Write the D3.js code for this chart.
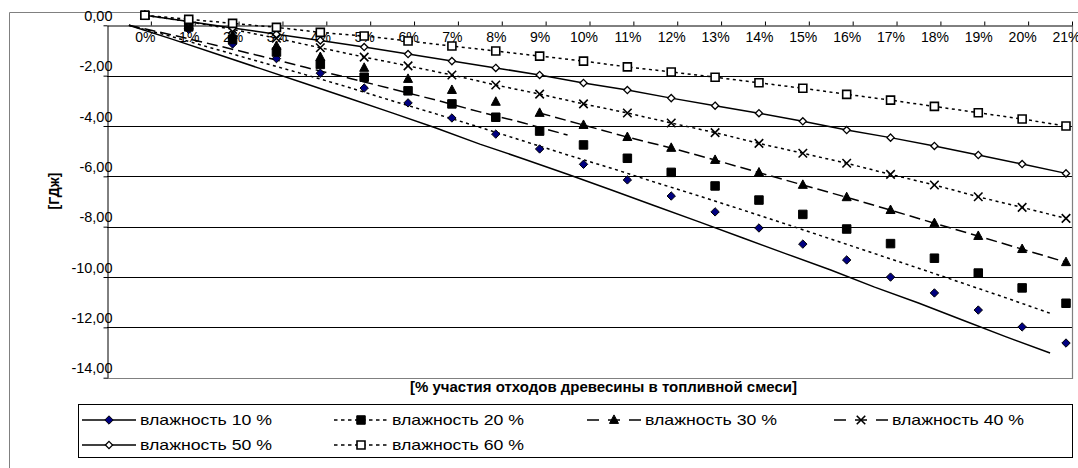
<!DOCTYPE html>
<html>
<head>
<meta charset="utf-8">
<script src="https://cdn.jsdelivr.net/npm/d3@7"></script>
<style>
  html, body { margin: 0; padding: 0; background: #fff; }
  svg { display: block; }
  text { font-family: "Liberation Sans", Arial, sans-serif; fill: #000; }
</style>
</head>
<body>
<svg id="chart" width="1078" height="468"></svg>
<script>
// Category labels (share of wood waste in the fuel mix)
const categories = ["0%","1%","2%","3%","4%","5%","6%","7%","8%","9%","10%",
  "11%","12%","13%","14%","15%","16%","17%","18%","19%","20%","21%"];

// Energy difference, GJ, for each moisture content of the wood
const moisture10 = [0,-0.56,-1.14,-1.72,-2.30,-2.89,-3.48,-4.08,-4.72,-5.31,-5.92,
  -6.54,-7.18,-7.81,-8.45,-9.09,-9.72,-10.40,-11.03,-11.71,-12.38,-13.02];
const moisture20 = [0,-0.46,-0.96,-1.46,-1.95,-2.46,-3.00,-3.52,-4.05,-4.60,-5.15,
  -5.68,-6.24,-6.78,-7.34,-7.91,-8.49,-9.07,-9.65,-10.24,-10.83,-11.44];
const moisture30 = [0,-0.39,-0.80,-1.22,-1.66,-2.09,-2.53,-2.97,-3.44,-3.88,-4.36,
  -4.84,-5.27,-5.75,-6.25,-6.74,-7.23,-7.74,-8.26,-8.77,-9.29,-9.81];
const moisture40 = [0,-0.25,-0.56,-0.91,-1.29,-1.66,-2.01,-2.37,-2.77,-3.13,-3.52,
  -3.88,-4.28,-4.66,-5.09,-5.48,-5.88,-6.32,-6.74,-7.21,-7.63,-8.07];
const moisture50 = [0,-0.25,-0.50,-0.75,-1.00,-1.26,-1.54,-1.82,-2.09,-2.37,-2.69,
  -2.97,-3.29,-3.59,-3.89,-4.21,-4.56,-4.86,-5.19,-5.55,-5.91,-6.28];
const moisture60 = [0,-0.16,-0.32,-0.48,-0.68,-0.82,-1.02,-1.22,-1.42,-1.62,-1.82,
  -2.05,-2.25,-2.46,-2.68,-2.90,-3.14,-3.37,-3.62,-3.87,-4.12,-4.40];

const seriesNames = ["влажность 10 %","влажность 20 %","влажность 30 %",
  "влажность 40 %","влажность 50 %","влажность 60 %"];

const yTicks = [0,-2,-4,-6,-8,-10,-12,-14];
const yTitle = "[ГДж]";
const xTitle = "[% участия отходов древесины в топливной смеси]";

// ---- drawing ----
const svg = d3.select("#chart");

const plot = { left: 107, right: 1072, top: 25.3, bottom: 377.7 };
const x = d3.scaleLinear().domain([-1, categories.length - 1]).range([plot.left, plot.right]);
const y = d3.scaleLinear().domain([-14, 0]).range([plot.bottom, plot.top]);
const step = x(1) - x(0);

// label / marker layer sits slightly up-left of the axes
const shift = { dx: -6, dy: -10 };

// chart area frame
svg.append("path")
  .attr("d", `M9.5,468 V12.5 H1078`)
  .attr("fill", "none").attr("stroke", "#808080").attr("stroke-width", 1);

// horizontal gridlines
svg.append("g").selectAll("line")
  .data(yTicks.filter(v => v !== 0 && v !== -14))
  .join("line")
  .attr("x1", plot.left).attr("x2", plot.right)
  .attr("y1", d => Math.round(y(d)) + 0.5).attr("y2", d => Math.round(y(d)) + 0.5)
  .attr("stroke", "#000").attr("stroke-width", 1);

// plot area border (right and bottom)
svg.append("path")
  .attr("d", `M${plot.left},${Math.round(plot.bottom)+0.5} H${Math.round(plot.right)+0.5} V${plot.top}`)
  .attr("fill", "none").attr("stroke", "#808080").attr("stroke-width", 1.2);

// y axis
const fmt = v => v.toFixed(2).replace(".", ",");
const yAxis = svg.append("g")
  .attr("transform", `translate(${plot.left + 0.5},0)`)
  .call(d3.axisLeft(y).tickValues(yTicks).tickSize(4).tickSizeOuter(0).tickFormat(fmt));
yAxis.select(".domain").attr("stroke", "#000");
yAxis.selectAll(".tick line").attr("stroke", "#000");
yAxis.selectAll(".tick text")
  .attr("x", 5).attr("y", shift.dy).attr("dy", "0.35em")
  .attr("font-size", 14.5).attr("font-family", "Liberation Sans, Arial, sans-serif");

// x axis along the zero line, labels under it
const xAxis = svg.append("g")
  .attr("transform", `translate(0,${Math.round(y(0)) + 0.5})`)
  .call(d3.axisBottom(x).tickValues(d3.range(categories.length))
    .tickSize(-4).tickSizeOuter(0).tickFormat(i => categories[i]));
xAxis.select(".domain").attr("stroke", "#000");
xAxis.selectAll(".tick line").attr("stroke", "#000");
xAxis.selectAll(".tick text")
  .attr("x", shift.dx).attr("y", 21.4 + shift.dy).attr("dy", "0.35em")
  .attr("font-size", 14).attr("font-family", "Liberation Sans, Arial, sans-serif");

// axis titles
svg.append("text")
  .attr("transform", `translate(54,191) rotate(-90)`)
  .attr("text-anchor", "middle").attr("dy", "0.35em")
  .attr("font-size", 14).attr("font-weight", "bold")
  .text(yTitle);
svg.append("text")
  .attr("x", 410).attr("y", 387).attr("dy", "0.35em")
  .attr("font-size", 14).attr("font-weight", "bold")
  .attr("textLength", 387).attr("lengthAdjust", "spacingAndGlyphs")
  .text(xTitle);

// ---- series ----
const diamond = r => `M0,${-r}L${r},0L0,${r}L${-r},0Z`;
const square = s => `M${-s/2},${-s/2}h${s}v${s}h${-s}Z`;
const triangle = (w, h) => `M0,${-h*0.6}L${w/2},${h*0.4}L${-w/2},${h*0.4}Z`;
const cross = s => `M${-s/2},${-s/2}L${s/2},${s/2}M${s/2},${-s/2}L${-s/2},${s/2}`;

const series = [
  { name: seriesNames[0], values: moisture10, dash: null, legendDash: null,
    marker: { d: diamond(4.2), fill: "#000080", stroke: "#000", sw: 1 } },
  { name: seriesNames[1], values: moisture20, dash: "3,3.5", legendDash: "3.5,3.5",
    marker: { d: square(8.5), fill: "#000", stroke: "#000", sw: 1 } },
  { name: seriesNames[2], values: moisture30, dash: "11,5", legendDash: "12,9",
    marker: { d: triangle(9, 8.5), fill: "#000", stroke: "#000", sw: 1 } },
  { name: seriesNames[3], values: moisture40, dash: "3,3.5", legendDash: "12,9",
    marker: { d: cross(8.5), fill: "none", stroke: "#000", sw: 1.6 } },
  { name: seriesNames[4], values: moisture50, dash: null, legendDash: null,
    marker: { d: diamond(3.6), fill: "#fff", stroke: "#000", sw: 1.3 } },
  { name: seriesNames[5], values: moisture60, dash: "3,3.5", legendDash: "3.5,3.5",
    marker: { d: square(8), fill: "#fff", stroke: "#000", sw: 1.6 } }
];

// where a series line is drawn: the lower lines sit half a category left on the
// value scale, the upper ones run through the marker positions
const lineOnCategory = d3.line()
  .x(d => x(d.i) - step / 2)
  .y(d => y(d.v));
const lineOnMarker = d3.line()
  .x(d => x(d.i) + shift.dx)
  .y(d => y(d.v) + shift.dy);

const pts = vals => vals.map((v, i) => ({ i, v }));

const lines = svg.append("g").attr("fill", "none").attr("stroke", "#000").attr("stroke-width", 1.5);
const segments = [
  { s: 0, gen: lineOnCategory, from: 0, to: 21 },
  { s: 1, gen: lineOnCategory, from: 0, to: 21 },
  { s: 2, gen: lineOnCategory, from: 0, to: 10 },
  { s: 2, gen: lineOnMarker, from: 9, to: 21 },
  { s: 3, gen: lineOnMarker, from: 0, to: 21 },
  { s: 4, gen: lineOnMarker, from: 0, to: 21 },
  { s: 5, gen: lineOnMarker, from: 0, to: 21 }
];
segments.forEach(seg => {
  const sr = series[seg.s];
  lines.append("path")
    .attr("d", seg.gen(pts(sr.values).slice(seg.from, seg.to + 1)))
    .attr("stroke-dasharray", sr.dash);
});

const markers = svg.append("g");
series.forEach(sr => {
  markers.append("g").selectAll("path")
    .data(pts(sr.values))
    .join("path")
    .attr("transform", d => `translate(${x(d.i) + shift.dx},${y(d.v) + shift.dy})`)
    .attr("d", sr.marker.d)
    .attr("fill", sr.marker.fill)
    .attr("stroke", sr.marker.stroke)
    .attr("stroke-width", sr.marker.sw);
});

// ---- legend ----
const legend = svg.append("g");
legend.append("rect")
  .attr("x", 78.5).attr("y", 404.5).attr("width", 994).attr("height", 53)
  .attr("fill", "#fff").attr("stroke", "#000").attr("stroke-width", 1);

const colX = [140, 392, 645, 892];
const rowY = [420, 445];
series.forEach((sr, k) => {
  const cx = colX[k % 4], cy = rowY[Math.floor(k / 4)];
  const g = legend.append("g");
  g.append("line")
    .attr("x1", cx - 58).attr("x2", cx - 4).attr("y1", cy).attr("y2", cy)
    .attr("stroke", "#000").attr("stroke-width", 1.5)
    .attr("stroke-dasharray", sr.legendDash);
  g.append("path")
    .attr("transform", `translate(${cx - 31},${cy})`)
    .attr("d", sr.marker.d)
    .attr("fill", sr.marker.fill).attr("stroke", sr.marker.stroke)
    .attr("stroke-width", sr.marker.sw);
  g.append("text")
    .attr("x", cx).attr("y", cy).attr("dy", "0.35em")
    .attr("font-size", 15)
    .attr("textLength", 132).attr("lengthAdjust", "spacingAndGlyphs")
    .text(sr.name);
});
</script>
</body>
</html>
